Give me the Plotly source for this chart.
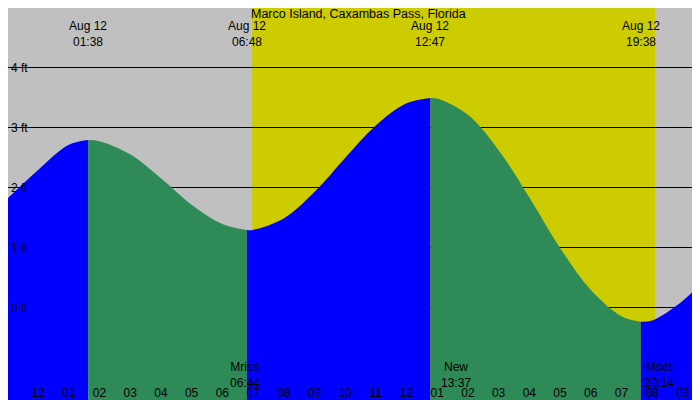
import plotly.graph_objects as go

title = "Marco Island, Caxambas Pass, Florida"
# hours relative to midnight Aug 12, tide heights in ft
seg_t = [
    [-0.98, 0, 1, 1.63],
    [1.63, 2, 3, 4, 5, 6, 6.8],
    [6.8, 7, 8, 9, 10, 11, 12, 12.78],
    [12.78, 13, 14, 15, 16, 17, 18, 19, 19.63],
    [19.63, 20, 21, 21.82],
]
seg_h = [
    [1.83, 2.3, 2.72, 2.8],
    [2.8, 2.78, 2.56, 2.16, 1.72, 1.40, 1.3],
    [1.3, 1.30, 1.49, 1.93, 2.50, 3.04, 3.41, 3.5],
    [3.5, 3.49, 3.22, 2.63, 1.84, 1.00, 0.30, -0.14, -0.23],
    [-0.23, -0.21, 0.12, 0.53],
]
seg_rising = [True, False, True, False, True]
extreme_t = [1.63, 6.8, 12.78, 19.63]
extreme_lbl = ["01:38", "06:48", "12:47", "19:38"]
sun_t = [6.97, 20.1]
moon_t = [6.73, 13.62, 20.23]
moon_name = ["Mrise", "New", "Mset"]
moon_time = ["06:44", "13:37", "20:14"]
hour_vals = list(range(-1, 22))
hour_lbls = ["11", "12", "01", "02", "03", "04", "05", "06", "07", "08", "09", "10", "11", "12",
             "01", "02", "03", "04", "05", "06", "07", "08", "09"]
ft_vals = [0, 1, 2, 3, 4]
ft_lbls = ["0 ft", "1 ft", "2 ft", "3 ft", "4 ft"]

X0, X1, Y0, Y1 = -0.98, 21.82, -1.67, 5.0
FONT = "Liberation Sans Narrow, Liberation Sans, Arial"

fig = go.Figure()
for t, h, r in zip(seg_t, seg_h, seg_rising):
    col = "#0000ff" if r else "#2e8b57"
    fig.add_trace(go.Scatter(x=t, y=[Y0 - 1] * len(t), mode="lines", line=dict(width=0),
                             hoverinfo="skip", showlegend=False))
    fig.add_trace(go.Scatter(x=t, y=h, mode="lines", line=dict(width=0, shape="spline"),
                             fill="tonexty", fillcolor=col, showlegend=False))

fig.add_shape(type="rect", xref="x", yref="paper", x0=sun_t[0], x1=sun_t[1], y0=0, y1=1,
              fillcolor="#cccc00", line_width=0, layer="below")

anns = [dict(text=title, x=0.5, y=1, xref="paper", yref="paper", xanchor="center",
             yanchor="top", showarrow=False, font=dict(size=12.5), yshift=3)]
for t, l in zip(extreme_t, extreme_lbl):
    anns.append(dict(text="Aug 12<br>" + l, x=t, y=1, xref="x", yref="paper", yanchor="top",
                     showarrow=False, yshift=-9, font=dict(size=12)))
for t, n, tm in zip(moon_t, moon_name, moon_time):
    anns.append(dict(text=n + "<br>" + tm, x=t, y=0, xref="x", yref="paper", yanchor="bottom",
                     showarrow=False, yshift=16, font=dict(size=12)))
    fig.add_shape(type="line", xref="x", yref="paper", x0=t, x1=t, y0=0, y1=0.022,
                  line=dict(color="red", width=1.5))

fig.update_layout(
    width=700, height=400, margin=dict(l=0, r=0, t=0, b=0, pad=0, autoexpand=False),
    paper_bgcolor="#c0c0c0", plot_bgcolor="#c0c0c0",
    font=dict(family=FONT, size=12, color="black"),
    annotations=anns,
    xaxis=dict(range=[X0, X1], tickvals=hour_vals, ticktext=hour_lbls, ticks="inside",
               ticklen=8, tickcolor="black", ticklabelposition="inside",
               tickfont=dict(color="black", size=12), showgrid=False,
               zeroline=False, showline=False, automargin=False),
    yaxis=dict(range=[Y0, Y1], tickvals=ft_vals, ticktext=ft_lbls, ticks="",
               ticklabelposition="inside", tickfont=dict(color="black", size=12),
               showgrid=True, gridcolor="black", gridwidth=1,
               zeroline=False, showline=False, automargin=False),
)
fig.write_html("out.html")
